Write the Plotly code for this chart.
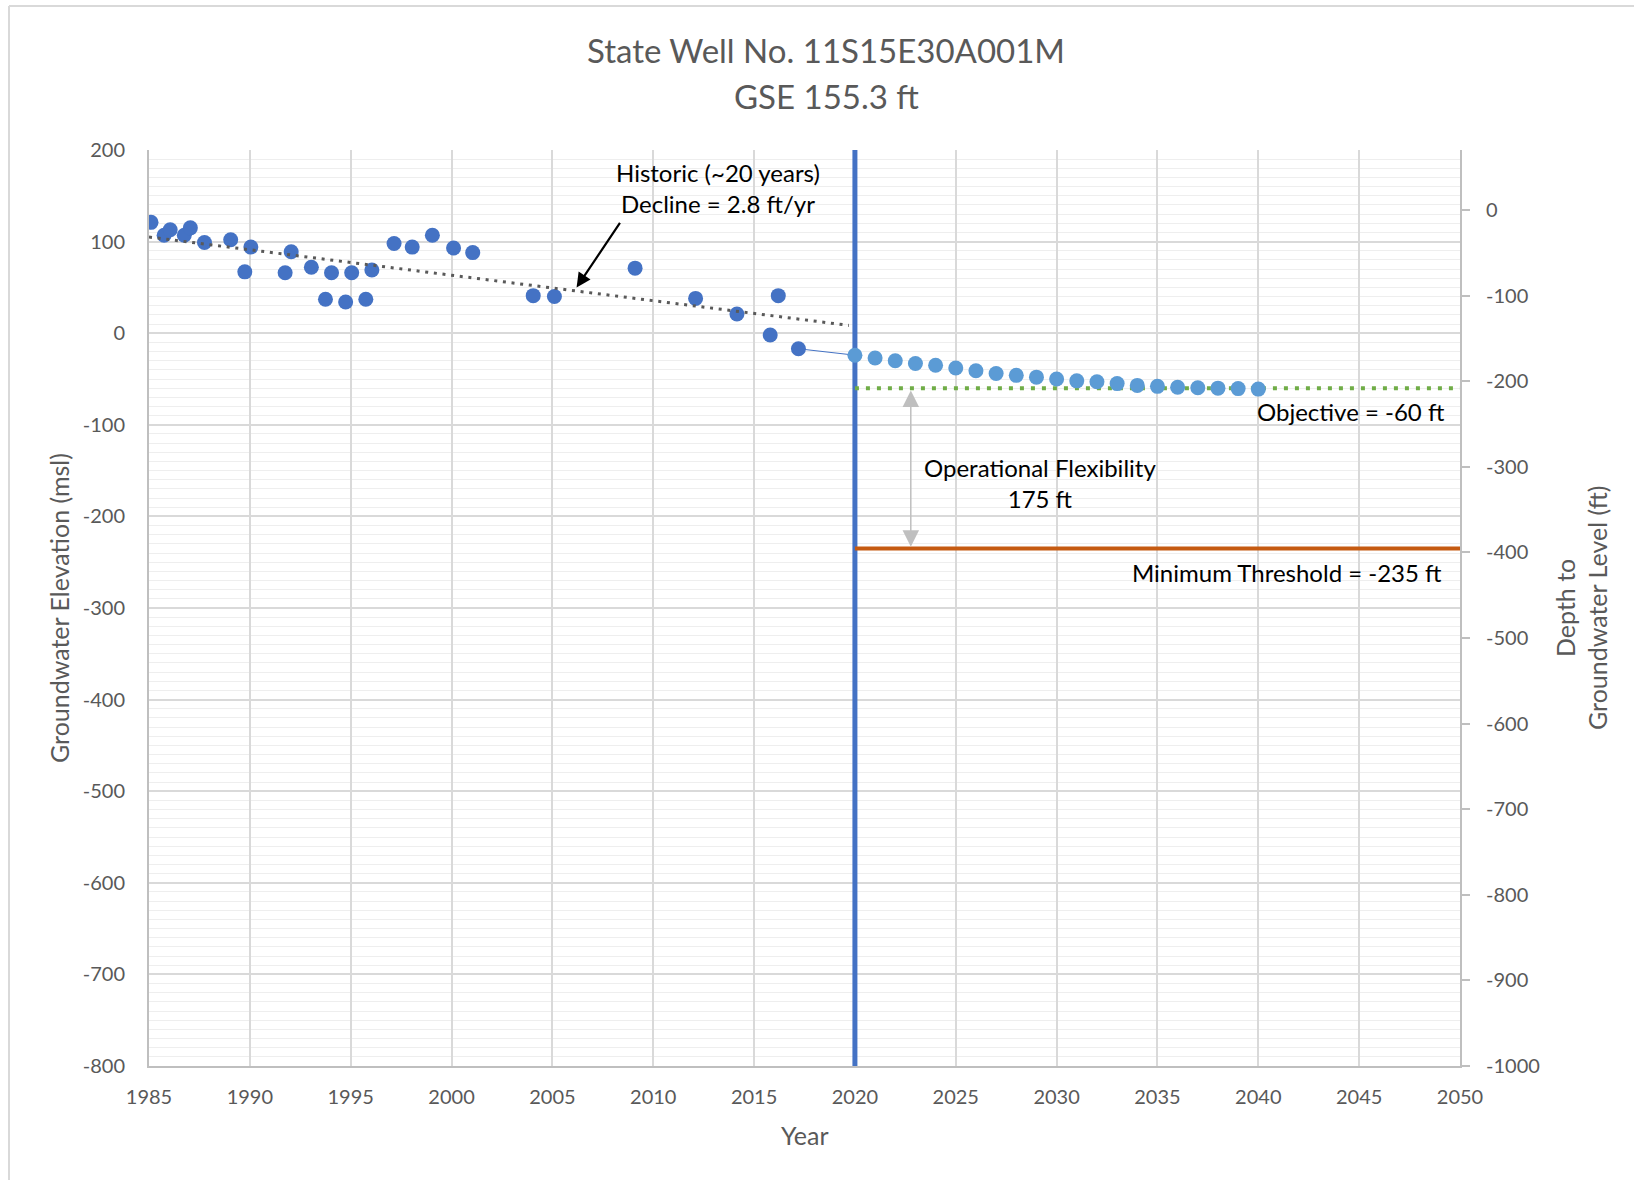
import plotly.graph_objects as go

# Measured groundwater elevations (ft msl)
hist_years = [1985.1, 1985.75, 1986.05, 1986.75, 1987.05, 1987.75, 1989.05, 1989.75,
              1990.05, 1991.75, 1992.05, 1993.05, 1993.75, 1994.05, 1994.75, 1995.05,
              1995.75, 1996.05, 1997.15, 1998.05, 1999.05, 2000.1, 2001.05, 2004.05,
              2005.1, 2009.1, 2012.1, 2014.15, 2015.8, 2016.2, 2017.2]
hist_elev = [121, 107, 113, 107, 115, 99, 102, 67, 94, 66, 89, 72, 37, 66, 34, 66,
             37, 69, 98, 94, 107, 93, 88, 41, 40, 71, 38, 21, -2, 41, -17]

# Projected elevations 2020-2040
proj_years = list(range(2020, 2041))
proj_elev = [-24, -27, -30, -33, -35, -38, -41, -44, -46, -48, -50, -52, -53, -55,
             -57, -58, -59, -59.5, -60, -60.5, -61]

# Historic linear trend
trend_years = [1985, 2019.7]
trend_elev = [105, 8.5]

objective = -60
min_threshold = -235
plan_year = 2020

x_ticks = list(range(1985, 2051, 5))
y_ticks = list(range(-800, 201, 100))
y2_ticks = list(range(-1000, 1, 100))

BLUE = "#4472C4"
LIGHT_BLUE = "#5B9BD5"
GREEN = "#70AD47"
ORANGE = "#C55A11"
GRID = "#d9d9d9"
TXT = "#595959"
FONT = "Lato"

# plot-area geometry (px)
L, R, T, B = 149, 1460, 150, 1066
PW, PH = R - L, B - T


def px_x(v):
    return (v - L) / PW


def px_y(v):
    return (B - v) / PH


fig = go.Figure()

# 2020 divider
fig.add_trace(go.Scatter(x=[plan_year, plan_year], y=[-800, 200], mode="lines",
                         line=dict(color=BLUE, width=5), hoverinfo="skip"))
# objective & threshold
fig.add_trace(go.Scatter(x=[plan_year, 2050], y=[objective, objective], mode="lines",
                         line=dict(color=GREEN, width=4, dash="4px,7px"), hoverinfo="skip"))
fig.add_trace(go.Scatter(x=[plan_year, 2050], y=[min_threshold, min_threshold], mode="lines",
                         line=dict(color=ORANGE, width=4), hoverinfo="skip"))
# connector from last measurement to projection
fig.add_trace(go.Scatter(x=[hist_years[-1], proj_years[0]], y=[hist_elev[-1], proj_elev[0]],
                         mode="lines", line=dict(color=BLUE, width=1), hoverinfo="skip"))
# measurements
fig.add_trace(go.Scatter(x=hist_years, y=hist_elev, mode="markers",
                         marker=dict(color=BLUE, size=15)))
# projection
fig.add_trace(go.Scatter(x=proj_years, y=proj_elev, mode="markers",
                         marker=dict(color=LIGHT_BLUE, size=15)))
# trend
fig.add_trace(go.Scatter(x=trend_years, y=trend_elev, mode="lines",
                         line=dict(color=TXT, width=3, dash="3px,5.7px"), hoverinfo="skip"))
# secondary axis carrier
fig.add_trace(go.Scatter(x=[1985], y=[0], yaxis="y2", mode="markers",
                         marker=dict(opacity=0), hoverinfo="skip"))


def label(text, x, y, size, color, xref="paper", yref="paper", xanchor="center",
          textangle=0):
    return dict(x=x, y=y, xref=xref, yref=yref, showarrow=False, text=text,
                xanchor=xanchor, yanchor="middle", textangle=textangle,
                font=dict(size=size, color=color))


annotations = [
    dict(x=2006.2, y=50, ax=2008.4, ay=122, xref="x", yref="y", axref="x", ayref="y",
         text="", showarrow=True, arrowhead=2, arrowsize=1.3, arrowwidth=2.2, arrowcolor="black"),
    dict(x=2022.77, y=-233, ax=2022.77, ay=-61, xref="x", yref="y", axref="x", ayref="y",
         text="", showarrow=True, arrowhead=2, arrowside="end+start", arrowsize=2.2,
         arrowwidth=1.5, arrowcolor="#bfbfbf"),
    label("Historic (~20 years)<br>Decline = 2.8 ft/yr", 2013.2, 158, 24, "black", "x", "y"),
    label("Operational Flexibility<br>175 ft", 2029.2, -164, 24, "black", "x", "y"),
    label("Objective = -60 ft", 2049.35, -86, 24, "black", "x", "y", xanchor="right"),
    label("Minimum Threshold = -235 ft", 2049.2, -261, 24, "black", "x", "y", xanchor="right"),
    label("State Well No. 11S15E30A001M", px_x(826), px_y(50), 33, TXT),
    label("GSE 155.3 ft", px_x(826), px_y(96), 33, TXT),
    label("Year", 0.5, px_y(1135), 25, TXT),
    label("Groundwater Elevation (msl)", px_x(59), 0.5, 25, TXT, textangle=-90),
    label("Depth to", px_x(1565), 0.5, 25, TXT, textangle=-90),
    label("Groundwater Level (ft)", px_x(1597), 0.5, 25, TXT, textangle=-90),
]

# chart area border (top and left edges)
shapes = [
    dict(type="line", xref="paper", yref="paper", x0=px_x(9), x1=px_x(1640),
         y0=px_y(6), y1=px_y(6), line=dict(color=GRID, width=2)),
    dict(type="line", xref="paper", yref="paper", x0=px_x(9), x1=px_x(9),
         y0=px_y(6), y1=px_y(1190), line=dict(color=GRID, width=2)),
]

fig.update_layout(
    width=1634, height=1180,
    margin=dict(l=L, r=1634 - R, t=T, b=1180 - B),
    paper_bgcolor="white", plot_bgcolor="white",
    showlegend=False,
    font=dict(family=FONT, color=TXT, size=20),
    annotations=annotations,
    shapes=shapes,
    xaxis=dict(range=[1985, 2050], tickvals=x_ticks, ticktext=[str(v) for v in x_ticks],
               showgrid=True, gridcolor=GRID, gridwidth=1.5, zeroline=False,
               showline=True, linecolor="#bfbfbf", linewidth=2,
               ticks="", ticklabelstandoff=12, tickfont=dict(size=20, color=TXT)),
    yaxis=dict(range=[-800, 200], tickvals=y_ticks, ticktext=[str(v) for v in y_ticks],
               showgrid=True, gridcolor=GRID, gridwidth=1.5, zeroline=False,
               showline=True, linecolor="#bfbfbf", linewidth=2,
               minor=dict(dtick=10, showgrid=True, gridcolor="#eeeeee", gridwidth=1),
               ticks="", ticklabelstandoff=18, tickfont=dict(size=20, color=TXT)),
    yaxis2=dict(overlaying="y", side="right", range=[-1000, 70], tickvals=y2_ticks,
                ticktext=[str(v) for v in y2_ticks],
                showgrid=False, zeroline=False, showline=True, linecolor="#bfbfbf",
                linewidth=2, ticks="outside", ticklen=8, tickcolor="#bfbfbf", tickwidth=2,
                ticklabelstandoff=12, tickfont=dict(size=20, color=TXT)),
)

fig.write_html("out.html")
